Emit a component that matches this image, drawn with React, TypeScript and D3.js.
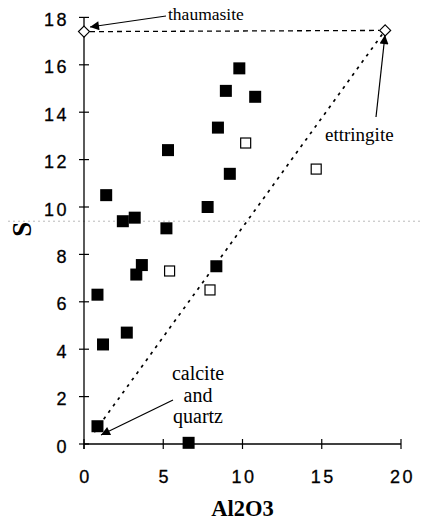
import React, { useEffect, useRef } from 'react';
import * as d3 from 'd3';

// filled squares
const filledAl2O3 = [1.4, 2.45, 3.2, 5.3, 5.2, 7.8, 9.8, 8.95, 10.8, 8.45, 9.2, 3.65, 3.3, 0.85, 1.2, 2.7, 0.85, 6.6, 8.35];
const filledS = [10.5, 9.4, 9.55, 12.4, 9.1, 10.0, 15.85, 14.9, 14.65, 13.35, 11.4, 7.55, 7.15, 6.3, 4.2, 4.7, 0.75, 0.05, 7.5];

// open squares
const openAl2O3 = [10.2, 14.65, 5.4, 7.95];
const openS = [12.7, 11.6, 7.3, 6.5];

// end members (diamonds)
const memberNames = ['thaumasite', 'ettringite'];
const memberAl2O3 = [0, 19];
const memberS = [17.4, 17.45];

const calciteCorner = { x: 0.6, y: 0.45 };
const calciteLabel = ['calcite', 'and', 'quartz'];
const scanLineS = 9.4;

const xTicks = [0, 5, 10, 15, 20];
const yTicks = [0, 2, 4, 6, 8, 10, 12, 14, 16, 18];

export default function App() {
    const svgRef = useRef<SVGSVGElement | null>(null);

    useEffect(() => {
        if (!svgRef.current) return;
        d3.select(svgRef.current).selectAll("*").remove();

        const width = 422;
        const height = 526;

        const svg = d3.select(svgRef.current)
            .attr("width", width)
            .attr("height", height);

        const x = d3.scaleLinear().domain([0, 20]).range([84, 401]);
        const y = d3.scaleLinear().domain([0, 18]).range([444, 17.4]);

        const defs = svg.append("defs");
        defs.append("marker")
            .attr("id", "arrow")
            .attr("viewBox", "0 0 10 10")
            .attr("refX", 10)
            .attr("refY", 5)
            .attr("markerWidth", 17)
            .attr("markerHeight", 9)
            .attr("markerUnits", "userSpaceOnUse")
            .attr("orient", "auto")
            .append("path")
            .attr("d", "M0,0 L10,5 L0,10 Z")
            .attr("fill", "#000");

        // faint scan line
        svg.append("line")
            .attr("x1", 8).attr("x2", 422)
            .attr("y1", y(scanLineS)).attr("y2", y(scanLineS))
            .attr("stroke", "#aaa")
            .attr("stroke-width", 0.8)
            .attr("stroke-dasharray", "2,3");

        // axes
        const tickFont = "'Liberation Sans', Arial, sans-serif";
        svg.append("line")
            .attr("x1", x(0)).attr("x2", x(0))
            .attr("y1", y(0) + 5).attr("y2", y(18))
            .attr("stroke", "#000").attr("stroke-width", 1.3);
        svg.append("line")
            .attr("x1", x(0)).attr("x2", x(20))
            .attr("y1", y(0)).attr("y2", y(0))
            .attr("stroke", "#000").attr("stroke-width", 1.3);

        svg.selectAll(".ytick")
            .data(yTicks)
            .enter().append("line")
            .attr("x1", x(0) - 5).attr("x2", x(0) + 5)
            .attr("y1", d => y(d)).attr("y2", d => y(d))
            .attr("stroke", "#000").attr("stroke-width", 1.2);

        svg.selectAll(".xtick")
            .data(xTicks)
            .enter().append("line")
            .attr("x1", d => x(d)).attr("x2", d => x(d))
            .attr("y1", y(0) - 5).attr("y2", y(0) + 5)
            .attr("stroke", "#000").attr("stroke-width", 1.2);

        svg.selectAll(".ylab")
            .data(yTicks)
            .enter().append("text")
            .attr("x", 69)
            .attr("y", d => y(d) + 8.6)
            .attr("text-anchor", "end")
            .attr("font-family", tickFont)
            .attr("font-size", 18)
            .attr("letter-spacing", 2.5)
            .attr("stroke", "#000")
            .attr("stroke-width", 0.3)
            .text(d => d);

        svg.selectAll(".xlab")
            .data(xTicks)
            .enter().append("text")
            .attr("x", d => x(d) + 1.5)
            .attr("y", 483)
            .attr("text-anchor", "middle")
            .attr("font-family", tickFont)
            .attr("font-size", 18)
            .attr("letter-spacing", 2.5)
            .attr("stroke", "#000")
            .attr("stroke-width", 0.3)
            .text(d => d);

        const serif = "'Liberation Serif', 'Times New Roman', serif";
        svg.append("text")
            .attr("x", x(10))
            .attr("y", 516)
            .attr("text-anchor", "middle")
            .attr("font-family", serif)
            .attr("font-weight", "bold")
            .attr("font-size", 22.5)
            .text("Al2O3");

        svg.append("text")
            .attr("transform", `translate(31,${y(9.1) + 1}) rotate(-90)`)
            .attr("text-anchor", "middle")
            .attr("font-family", serif)
            .attr("font-weight", "bold")
            .attr("font-size", 27)
            .text("S");

        // triangle of end members
        svg.append("line")
            .attr("x1", x(memberAl2O3[0]) + 6).attr("y1", y(memberS[0]))
            .attr("x2", x(memberAl2O3[1]) - 6).attr("y2", y(memberS[1]))
            .attr("stroke", "#000").attr("stroke-width", 1.3)
            .attr("stroke-dasharray", "5,4");
        svg.append("line")
            .attr("x1", x(memberAl2O3[1]) - 3).attr("y1", y(memberS[1]) + 4)
            .attr("x2", x(calciteCorner.x)).attr("y2", y(calciteCorner.y))
            .attr("stroke", "#000").attr("stroke-width", 1.7)
            .attr("stroke-dasharray", "3,5");

        // points
        const sq = 12;
        svg.selectAll(".filled")
            .data(filledAl2O3.map((a, i) => [a, filledS[i]]))
            .enter().append("rect")
            .attr("x", d => x(d[0]) - sq / 2)
            .attr("y", d => y(d[1]) - sq / 2)
            .attr("width", sq).attr("height", sq)
            .attr("fill", "#000");

        const osq = 10;
        svg.selectAll(".open")
            .data(openAl2O3.map((a, i) => [a, openS[i]]))
            .enter().append("rect")
            .attr("x", d => x(d[0]) - osq / 2)
            .attr("y", d => y(d[1]) - osq / 2)
            .attr("width", osq).attr("height", osq)
            .attr("fill", "#fff")
            .attr("stroke", "#000")
            .attr("stroke-width", 1.2);

        svg.selectAll(".diamond")
            .data(memberAl2O3.map((a, i) => [a, memberS[i]]))
            .enter().append("path")
            .attr("d", d => {
                const cx = x(d[0]), cy = y(d[1]);
                return `M${cx},${cy - 5.5} L${cx + 5.5},${cy} L${cx},${cy + 5.5} L${cx - 5.5},${cy} Z`;
            })
            .attr("fill", "#fff")
            .attr("stroke", "#000")
            .attr("stroke-width", 1.2);

        // annotations
        svg.append("line")
            .attr("x1", 166).attr("y1", 16)
            .attr("x2", 90).attr("y2", 27)
            .attr("stroke", "#000").attr("stroke-width", 1.2)
            .attr("marker-end", "url(#arrow)");
        svg.append("text")
            .attr("x", 168).attr("y", 20)
            .attr("font-family", serif)
            .attr("font-size", 17.5)
            .text(memberNames[0]);

        svg.append("line")
            .attr("x1", 376).attr("y1", 117)
            .attr("x2", 385).attr("y2", 35)
            .attr("stroke", "#000").attr("stroke-width", 1.2)
            .attr("marker-end", "url(#arrow)");
        svg.append("text")
            .attr("x", 325).attr("y", 140.5)
            .attr("font-family", serif)
            .attr("font-size", 19)
            .text(memberNames[1]);

        svg.append("line")
            .attr("x1", 173).attr("y1", 400)
            .attr("x2", 101).attr("y2", 435)
            .attr("stroke", "#000").attr("stroke-width", 1.2)
            .attr("marker-end", "url(#arrow)");
        calciteLabel.forEach((t, i) => {
            svg.append("text")
                .attr("x", 198)
                .attr("y", 380 + i * 21.5)
                .attr("text-anchor", "middle")
                .attr("font-family", serif)
                .attr("font-size", 20)
                .text(t);
        });
    }, []);

    return <svg ref={svgRef} style={{ position: 'absolute', left: 0, top: 0 }}></svg>;
}
